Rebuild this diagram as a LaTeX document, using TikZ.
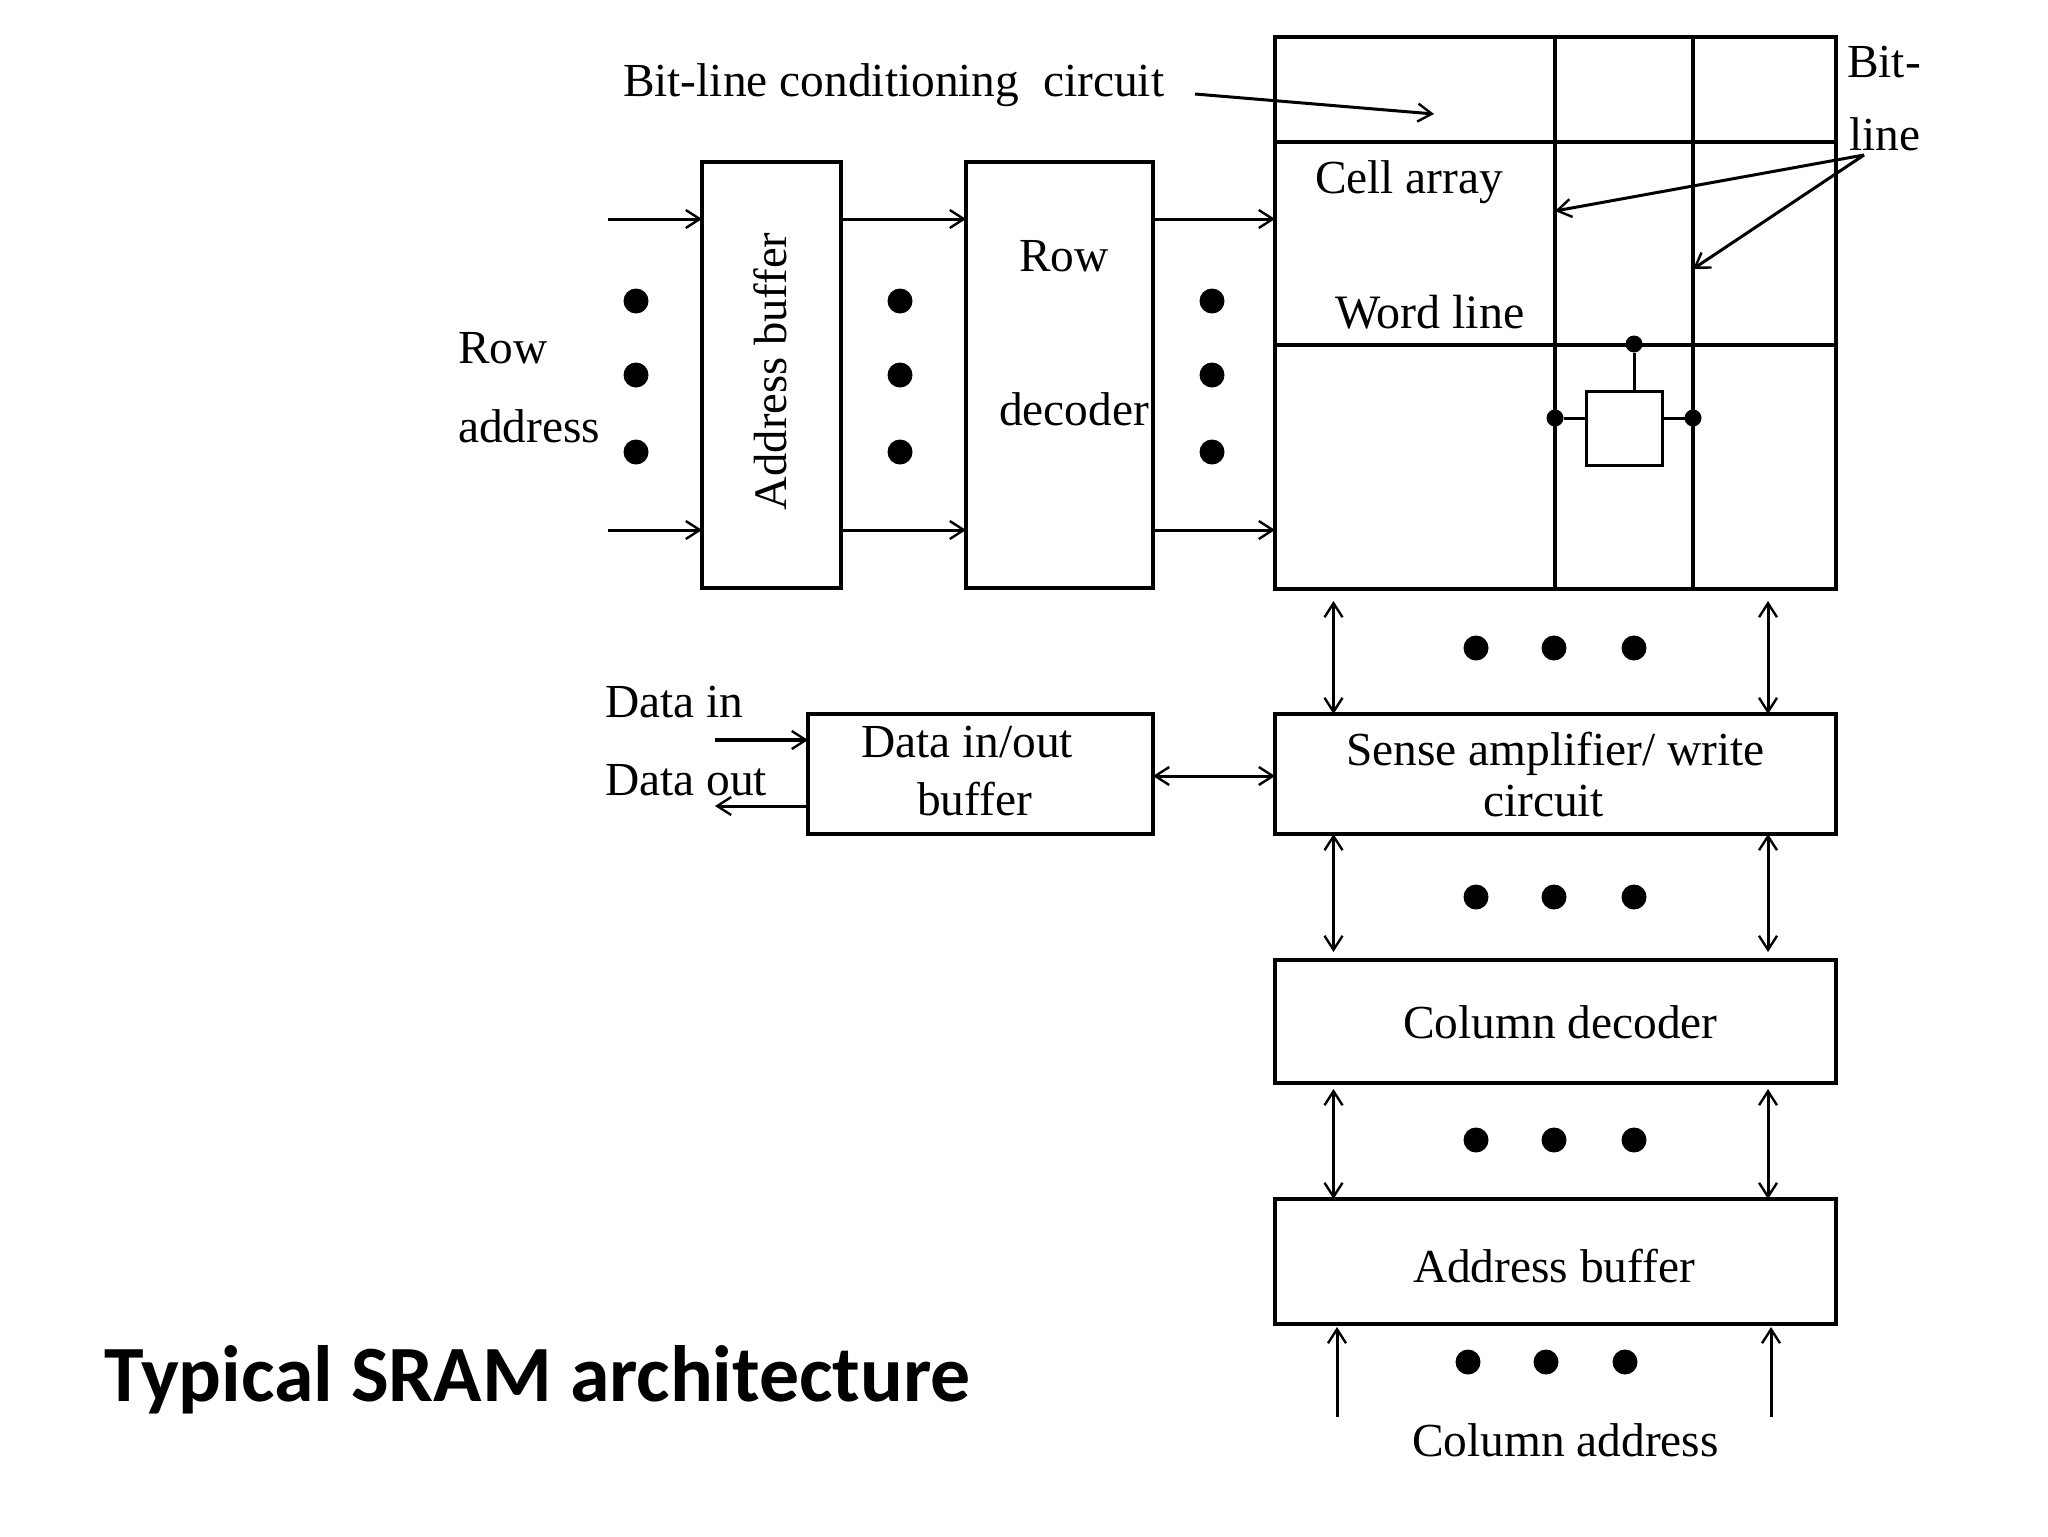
\documentclass[tikz,border=0pt]{standalone}
\usepackage{fontspec}
\setmainfont{Liberation Serif}
\newfontfamily\titlefont{Carlito}
\usetikzlibrary{arrows.meta}
\tikzset{
  x=0.5pt,y=-0.5pt,
  blk/.style={draw=black,line width=1.8pt,fill=none,inner sep=0,outer sep=0},
  unitbox/.style={draw=black,line width=1.5pt,inner sep=0,outer sep=0},
  lbl/.style={font=\fontsize{23.7}{28}\selectfont,text=black,inner sep=0,outer sep=0,anchor=base west},
  bigdot/.style={circle,fill=black,inner sep=0,outer sep=0,minimum size=12.5pt},
  smalldot/.style={circle,fill=black,inner sep=0,outer sep=0,minimum size=8.5pt},
  arr/.style={line width=1.5pt,-{Straight Barb[length=7pt,width=9pt,line width=1.2pt]}},
  darr/.style={line width=1.5pt,{Straight Barb[length=7pt,width=9pt,line width=1.2pt]}-{Straight Barb[length=7pt,width=9pt,line width=1.2pt]}},
  grid/.style={line width=1.7pt},
}
\begin{document}
\begin{tikzpicture}
\useasboundingbox (0,0) rectangle (2048,1536);
% boxes
\node[blk,minimum width=280.5pt,minimum height=276pt] (cell) at (1555.5,313) {};
\node[blk,minimum width=69.5pt,minimum height=213pt] (addr) at (771.5,375) {};
\node[blk,minimum width=93.5pt,minimum height=213pt] (rowdec) at (1059.5,375) {};
\node[blk,minimum width=172.5pt,minimum height=60pt] (data) at (980.5,774) {};
\node[blk,minimum width=280.5pt,minimum height=60pt] (sense) at (1555.5,774) {};
\node[blk,minimum width=280.5pt,minimum height=61.5pt] (coldec) at (1555.5,1021.5) {};
\node[blk,minimum width=280.5pt,minimum height=62.5pt] (addrb) at (1555.5,1261.5) {};
\node[unitbox,minimum width=38pt,minimum height=37pt] (unit) at (1624,428) {};
% grid
\coordinate (bla) at (1555,0);
\coordinate (blb) at (1693,0);
\coordinate (wla) at (0,142);
\coordinate (wlb) at (0,345);
\draw[grid] (cell.north -| bla) -- (cell.south -| bla);
\draw[grid] (cell.north -| blb) -- (cell.south -| blb);
\draw[line width=2pt] (cell.west |- wla) -- (cell.east |- wla);
\draw[line width=2pt] (cell.west |- wlb) -- (cell.east |- wlb);
% cell dots
\node[smalldot] (dt) at (1634,344) {};
\node[smalldot] (dl) at (1555,418) {};
\node[smalldot] (dr) at (1693,418) {};
\draw[unitbox] (dt) -- (dt |- unit.north);
\draw[unitbox] (dl) -- (unit.west |- dl);
\draw[unitbox] (dr) -- (unit.east |- dr);
% row arrows
\coordinate (ra) at (608,219);
\coordinate (rb) at (608,530);
\draw[arr] (ra) -- (ra -| addr.west);
\draw[arr] (rb) -- (rb -| addr.west);
\draw[arr] (ra -| addr.east) -- (ra -| rowdec.west);
\draw[arr] (rb -| addr.east) -- (rb -| rowdec.west);
\draw[arr] (ra -| rowdec.east) -- (ra -| cell.west);
\draw[arr] (rb -| rowdec.east) -- (rb -| cell.west);
% big dots
\foreach \n/\x/\y in {a/636/301,b/636/375,c/636/452,d/900/301,e/900/375,f/900/452,g/1212/301,h/1212/375,i/1212/452,
  j/1476/648,k/1554/648,l/1634/648,m/1476/897,n/1554/897,o/1634/897,p/1476/1140,q/1554/1140,r/1634/1140,
  s/1468/1362,t/1546/1362,u/1625/1362}
  \node[bigdot] (dot\n) at (\x,\y) {};
% data arrows
\coordinate (din) at (715,740);
\coordinate (dout) at (715,806);
\coordinate (dbi) at (0,776);
\draw[arr,line width=1.8pt] (din) -- (din -| data.west);
\draw[arr] (dout -| data.west) -- (dout);
\draw[darr] (dbi -| data.east) -- (dbi -| sense.west);
% vertical double arrows
\coordinate (va) at (1333.5,0);
\coordinate (vb) at (1768,0);
\foreach \c in {va,vb}{
  \draw[darr,shorten <=6pt] (cell.south -| \c) -- (sense.north -| \c);
  \draw[darr,shorten >=4pt] (sense.south -| \c) -- (coldec.north -| \c);
  \draw[darr,shorten <=3pt] (coldec.south -| \c) -- (addrb.north -| \c);
}
% bottom arrows
\coordinate (ca) at (1337,1417);
\coordinate (cb) at (1771,1417);
\draw[arr,shorten >=1.5pt] (ca) -- (ca |- addrb.south);
\draw[arr,shorten >=1.5pt] (cb) -- (cb |- addrb.south);
% other arrows
\coordinate (bc) at (1195,94);
\coordinate (bct) at (1434,114);
\coordinate (bs) at (1864,155);
\coordinate (bt1) at (1555,211);
\coordinate (bt2) at (1693,269);
\draw[arr] (bc) -- (bct);
\draw[arr] (bs) -- (bt1);
\draw[arr] (bs) -- (bt2);
% labels
\node[lbl] (t1) at (623,97) {Bit-line conditioning\ \ circuit};
\node[lbl] (t2) at (1847,78) {Bit-};
\node[lbl] (t3) at (1849,150) {line};
\node[lbl] (t4) at (1315,193) {Cell array};
\node[lbl,font=\fontsize{24}{28}\selectfont] (t5) at (1335,328) {Word line};
\node[lbl] (t6) at (458,363) {Row};
\node[lbl] (t7) at (458,442) {address};
\node[lbl,rotate=90,font=\fontsize{23.3}{28}\selectfont] (t8) at (786,510) {Address buffer};
\node[lbl] (t9) at (1019,271) {Row};
\node[lbl] (t10) at (999,425) {decoder};
\node[lbl] (t11) at (605,717) {Data in};
\node[lbl] (t12) at (605,795) {Data out};
\node[lbl] (t13) at (861,757) {Data in/out};
\node[lbl] (t14) at (917,815) {buffer};
\node[lbl] (t15) at (1346,765) {Sense amplifier/ write};
\node[lbl] (t16) at (1483,816) {circuit};
\node[lbl] (t17) at (1403,1038) {Column decoder};
\node[lbl] (t18) at (1413,1282) {Address buffer};
\node[lbl] (t19) at (1412,1456) {Column address};
\node[font=\titlefont\bfseries\fontsize{39.9}{46}\selectfont,inner sep=0,outer sep=0,anchor=base west] (title) at (104,1401) {Typical SRAM architecture};
\end{tikzpicture}
\end{document}
